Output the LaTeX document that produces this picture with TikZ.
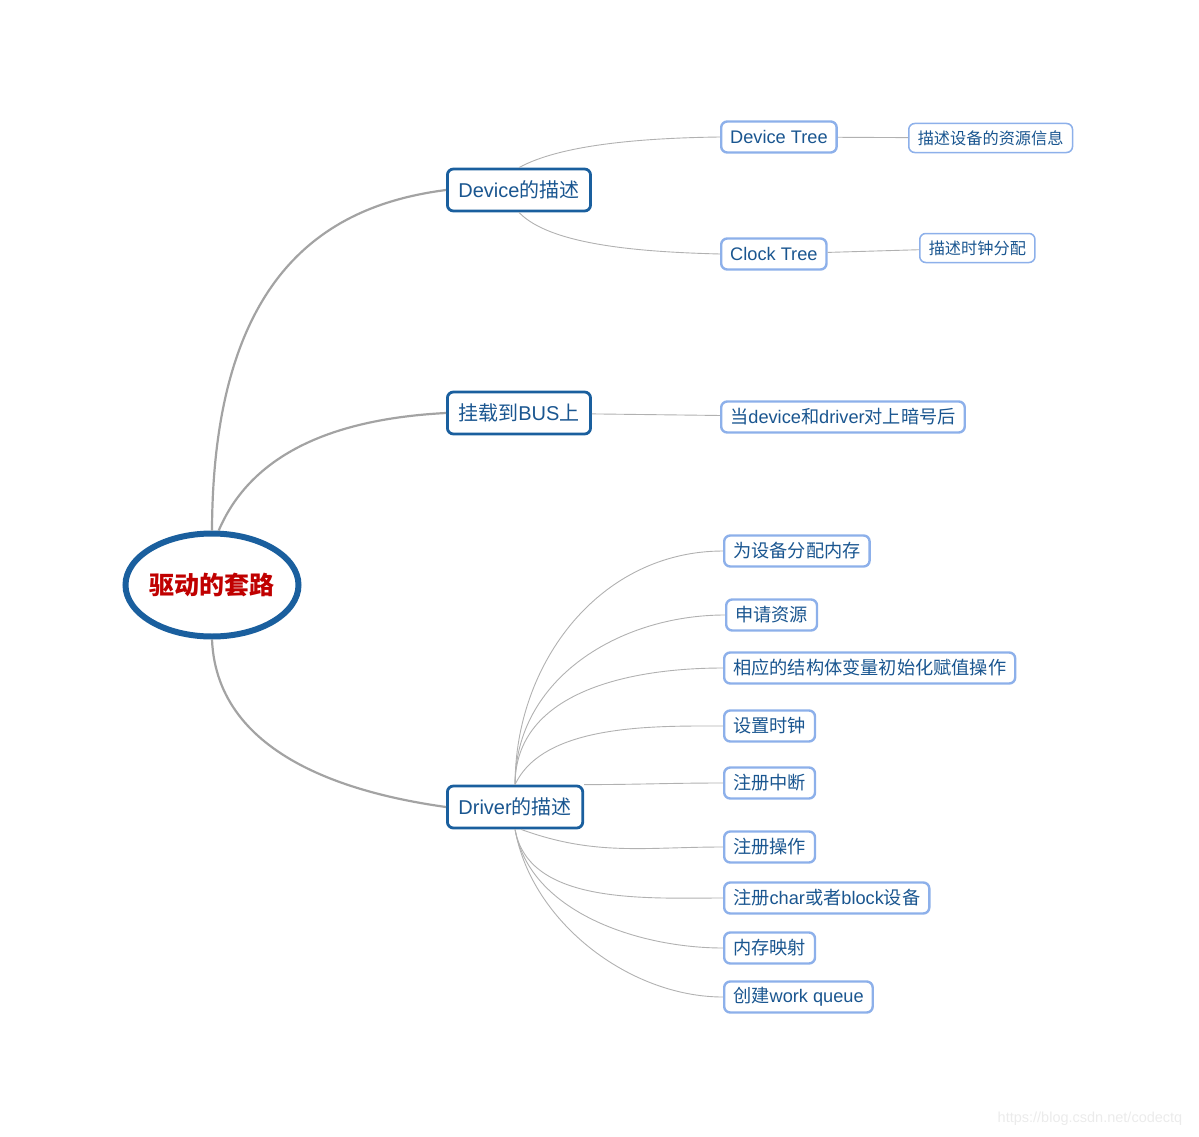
\documentclass[tikz,border=0pt]{standalone}
\usepackage{fontspec}
\setmainfont{Noto Sans CJK SC}
\newfontfamily\lat{Liberation Sans}
\usetikzlibrary{shapes.geometric,positioning}
\definecolor{DeepBlue}{HTML}{1A5F9E}
\definecolor{InkBlue}{HTML}{1A5690}
\definecolor{PaleBlue}{HTML}{8DB0EA}
\definecolor{RootRed}{HTML}{C00000}
\definecolor{LinkGray}{HTML}{A3A3A3}

\begin{document}
\begin{tikzpicture}[x=1pt, y=-1pt,
  root/.style={ellipse, draw=DeepBlue, line width=6pt, fill=white, inner sep=0pt, minimum width=173pt, minimum height=103pt, text=RootRed, font=\fontsize{25}{29}\selectfont\bfseries},
  topic/.style={draw=DeepBlue, line width=2.8pt, rounded corners=6pt, fill=white, minimum height=42pt, inner xsep=11pt, anchor=west, text=InkBlue, font=\fontsize{20}{23}\selectfont},
  sub/.style={draw=PaleBlue, line width=2.4pt, rounded corners=6pt, fill=white, minimum height=31pt, inner xsep=9pt, anchor=west, text=InkBlue, font=\fontsize{18.2}{21}\selectfont},
  leaf/.style={draw=PaleBlue, line width=1.5pt, rounded corners=6pt, fill=white, minimum height=29pt, inner xsep=9pt, anchor=west, text=InkBlue, font=\fontsize{16.2}{19}\selectfont},
  trunk/.style={draw=LinkGray, line width=2.2pt},
  twig/.style={draw=LinkGray!85, line width=0.9pt}
]
\useasboundingbox (0,0) rectangle (1199,1137);

% main branches
\node[root] (root) at (212,585) {\makebox[90pt][c]{驱动的套路}};
\node[topic] (dev) at (446,190) {{\lat Device}的描述};
\node[topic] (bus) at (446,413) {挂载到{\lat BUS}上};
\node[topic] (drv) at (446,807) {{\lat Driver}的描述};

\draw[trunk] (root.north) .. controls (213,270) and (330,205) .. (dev.west);
\draw[trunk] (root.83) .. controls (255,445) and (350,418) .. (bus.west);
\draw[trunk] (root.south) .. controls (217,760) and (360,795) .. (drv.west);

% device side
\node[sub] (dtree) at (720,137) {\lat Device Tree};
\node[sub] (ctree) at (720,254) {\lat Clock Tree};
\node[leaf] (dres) at (908,138) {描述设备的资源信息};
\node[leaf] (dclk) at (919,248) {描述时钟分配};

\draw[twig] (dev.north) .. controls (560,145) and (640,138) .. (dtree.west);
\draw[twig] (dev.south) .. controls (550,245) and (640,252) .. (ctree.west);
\draw[twig] (dtree) -- (dres);
\draw[twig] (ctree) -- (dclk);

% bus side
\node[sub] (match) at (720,417) {当{\lat device}和{\lat driver}对上暗号后};
\draw[twig] (bus) -- (match);

% driver side
\node[sub] (mem) at (723,551) {为设备分配内存};
\node[sub] (res) at (725,615) {申请资源};
\node[sub] (init) at (723,668) {相应的结构体变量初始化赋值操作};
\node[sub] (clk) at (723,726) {设置时钟};
\node[sub] (irq) at (723,783) {注册中断};
\node[sub] (ops) at (723,847) {注册操作};
\node[sub] (cdev) at (723,898) {注册{\lat char}或者{\lat block}设备};
\node[sub] (map) at (723,948) {内存映射};
\node[sub] (wq) at (723,997) {创建{\lat work queue}};

\foreach \n in {mem,res,init}
  \draw[twig] (drv.north) to[out=90, in=180] (\n.west);
\draw[twig] (drv.north) to[out=65, in=180, looseness=0.8] (clk.west);
\draw[twig] (drv.north east) to[out=0, in=180] (irq.west);
\draw[twig] (drv.-75) to[out=-20, in=180] (ops.west);
\foreach \n in {cdev,map,wq}
  \draw[twig] (drv.south) to[out=-80, in=180, looseness=0.9] (\n.west);

\node[text=black!8, font=\lat\fontsize{14.5}{16}\selectfont] (mark) at (1090,1119) {https://blog.csdn.net/codectq};
\end{tikzpicture}
\end{document}
